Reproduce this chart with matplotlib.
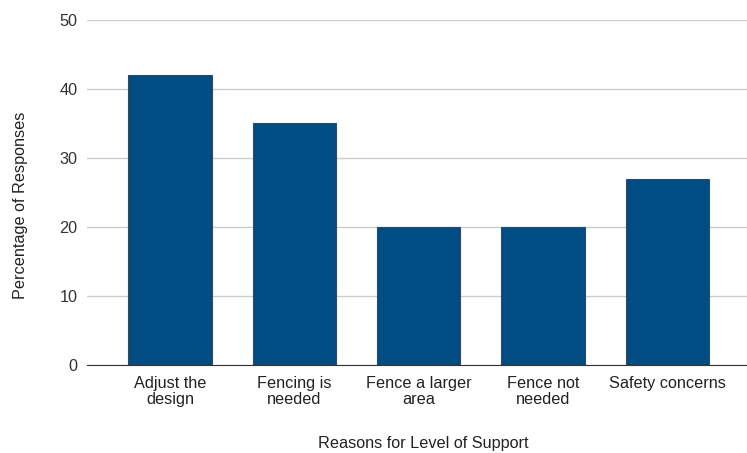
import matplotlib.pyplot as plt

plt.rcParams['font.family'] = ['Liberation Sans', 'DejaVu Sans']

reasons = ['Adjust the\ndesign', 'Fencing is\nneeded', 'Fence a larger\narea',
           'Fence not\nneeded', 'Safety concerns']
percentages = [42, 35, 20, 20, 27]
yticks = [0, 10, 20, 30, 40, 50]

fig = plt.figure(figsize=(7.47, 4.53), dpi=100)
ax = fig.add_axes([0.1165, 0.194, 0.8835, 0.762])

ax.bar(range(len(reasons)), percentages, width=0.67, color='#004d84',
       edgecolor='#34495e', linewidth=0.8, zorder=3)

ax.set_ylim(0, 50)
ax.set_xlim(-0.668, 4.64)
ax.set_yticks(yticks)
ax.set_xticks(range(len(reasons)))
ax.set_xticklabels(reasons, fontsize=11.7, color='#222222', linespacing=1.08)
ax.tick_params(axis='y', labelsize=11.7, colors='#333333', length=0, pad=7)
ax.tick_params(axis='x', length=0, pad=8)
ax.grid(axis='y', color='#cccccc', linewidth=1, zorder=0)

for side in ['top', 'right', 'left']:
    ax.spines[side].set_visible(False)
ax.spines['bottom'].set_color('#333333')
ax.spines['bottom'].set_zorder(4)

ax.set_xlabel('Reasons for Level of Support', fontsize=11.7, color='#222222')
ax.set_ylabel('Percentage of Responses', fontsize=11.7, color='#222222')
ax.xaxis.set_label_coords(0.51, -0.205)
ax.yaxis.set_label_coords(-0.089, 0.464)

fig.savefig('out.png', dpi=100)
